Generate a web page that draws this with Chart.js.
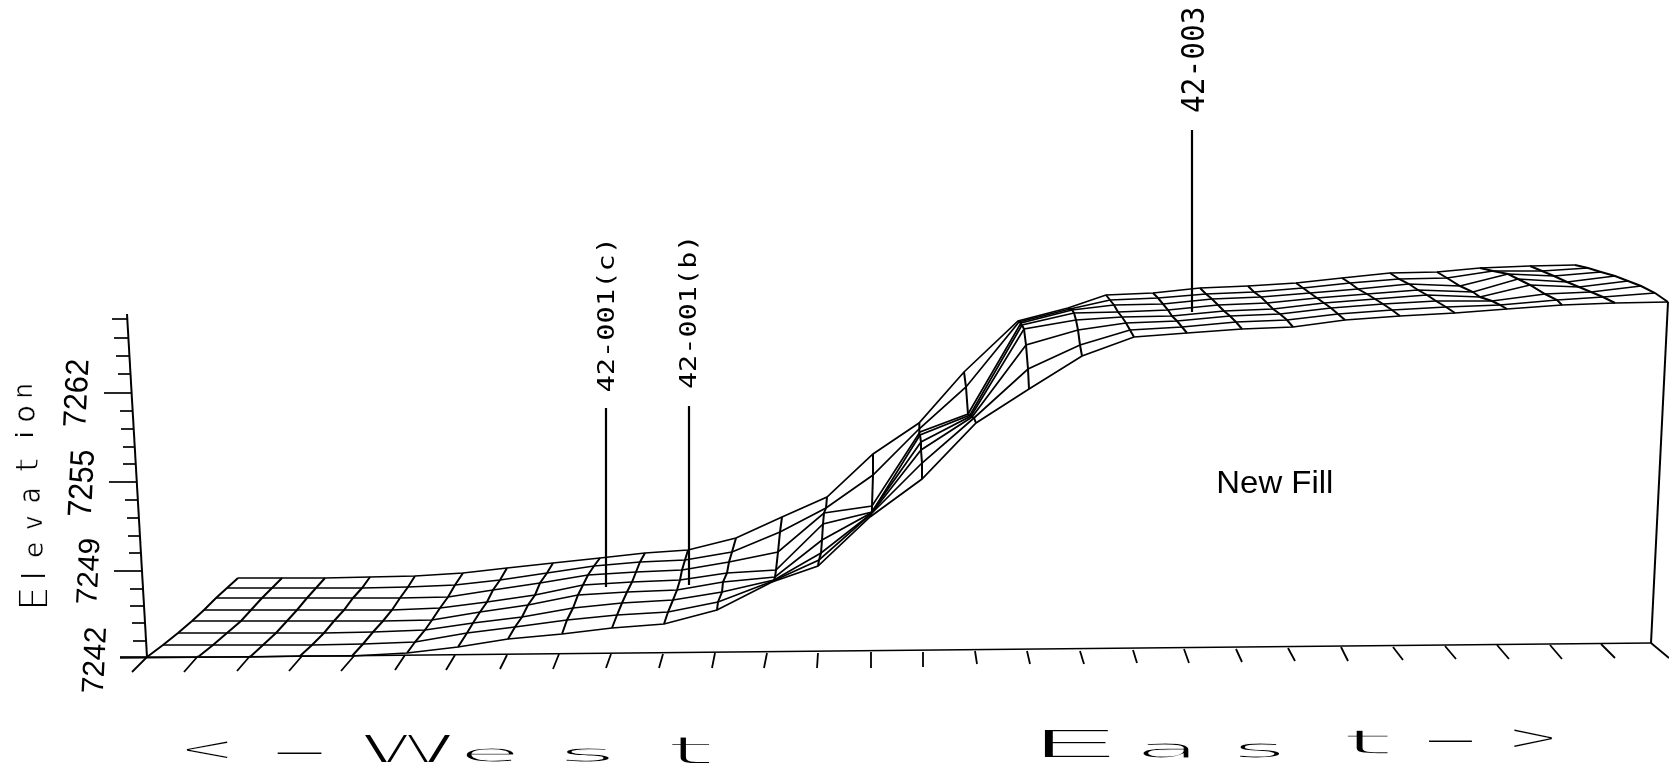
<!DOCTYPE html>
<html>
<head>
<meta charset="utf-8">
<title>Elevation surface</title>
<script src="https://cdn.jsdelivr.net/npm/chart.js@4"></script>
<style>
html, body { margin: 0; padding: 0; background: #fff; overflow: hidden; }
canvas { display: block; }
</style>
</head>
<body>
<canvas id="surfaceChart" width="1669" height="771"></canvas>
<script>
// one line per mesh column, front row first.
const meshX = [
    [147,163,178,192,204,216,227,238],
    [198,213,227,241,251,262,272,282],
    [250,263,276,287,297,307,316,325],
    [300,312,324,334,344,353,362,370],
    [352,363,373,383,392,400,408,415],
    [407,415,425,432,440,448,455,463],
    [458,467,473,480,487,493,500,507],
    [508,515,522,528,535,540,547,553],
    [562,567,573,578,583,588,594,600],
    [612,617,622,627,632,636,640,645],
    [664,668,673,677,680,682,685,688],
    [717,718,722,723,727,729,732,736],
    [772,773,774,775,776,778,780,782],
    [818,819,821,822,823,824,826,827],
    [870,870,871,871,872,872,873,873],
    [922,922,921,921,920,920,919,919],
    [976,974,972,971,970,968,966,964],
    [1029,1028,1026,1024,1022,1021,1019,1018],
    [1082,1080,1078,1076,1074,1072,1070,1068],
    [1134,1130,1126,1122,1118,1114,1110,1106],
    [1187,1182,1177,1172,1168,1163,1158,1153],
    [1242,1236,1230,1224,1218,1212,1206,1200],
    [1293,1287,1280,1273,1267,1261,1254,1248],
    [1345,1338,1331,1324,1317,1310,1303,1296],
    [1400,1392,1383,1375,1367,1358,1350,1342],
    [1455,1446,1436,1427,1418,1409,1399,1390],
    [1507,1500,1492,1480,1473,1460,1447,1437],
    [1562,1557,1545,1530,1518,1508,1493,1480],
    [1615,1603,1591,1579,1567,1554,1542,1530],
    [1668,1655,1641,1628,1615,1601,1588,1575]
];
const meshY = [
    [657,645,633,621,610,598,588,578],
    [657,645,633,621,610,598,588,578],
    [657,645,633,621,610,598,588,578],
    [656,645,633,621,610,598,588,577],
    [656,644,632,621,610,598,587,576],
    [653,642,630,620,608,597,585,573],
    [647,633,623,612,602,590,580,568],
    [639,627,617,605,595,583,573,563],
    [634,620,608,595,585,575,566,558],
    [628,615,603,592,582,572,562,553],
    [624,612,600,590,580,570,560,550],
    [610,602,592,582,573,562,552,538],
    [582,581,580,577,570,552,532,517],
    [566,560,553,540,524,513,508,497],
    [517,515,514,513,512,506,475,454],
    [479,463,450,442,435,432,429,423],
    [423,418,417,416,415,414,387,372],
    [389,369,345,329,325,323,322,321],
    [356,345,330,320,313,310,309,308],
    [337,330,323,317,312,305,300,295],
    [333,327,321,316,310,304,298,293],
    [329,322,316,311,305,299,294,288],
    [327,320,314,309,303,297,292,286],
    [320,314,308,303,298,293,288,283],
    [316,310,304,299,294,289,283,278],
    [313,307,301,295,290,284,279,273],
    [309,305,301,297,292,286,278,272],
    [305,300,294,285,279,274,271,268],
    [303,297,292,287,282,276,271,266],
    [302,293,286,281,276,272,268,265]
];

// bottom axis ticks
const baseTickTopX = [147,198,250,302,354,405,455,507,559,611,663,715,767,818,871,923,975,1027,1080,1133,1184,1236,1288,1341,1393,1445,1497,1550,1601,1651];
const baseTickTopY = [657,656,656,656,656,655,655,655,654,654,654,653,653,653,652,652,651,651,651,650,649,649,648,647,647,646,645,645,644,643];
const baseTickTipX = [132,184,237,289,341,395,446,500,553,606,659,712,764,817,871,923,977,1030,1084,1137,1189,1242,1295,1348,1403,1456,1509,1562,1615,1669];
const baseTickTipY = [672,672,671,671,671,670,670,669,669,668,668,668,668,668,668,667,664,664,664,663,663,662,661,661,660,659,659,659,658,658];

// elevation axis ticks
const elevTickY = [319,338,356,374,393,411,429,447,464,482,500,518,536,553,571,589,606,623,641,657];
const elevTickAxisX = [127,129,130,131,132,133,134,135,136,137,138,139,140,141,142,143,144,145,146,147];
const elevTickEndX = [112,114,116,118,104,120,121,123,123,109,125,127,128,129,114,130,130,132,133,120];
const elevTickLabels = ['7262', '7255', '7249', '7242'];

// borehole sticks
const wellNames = ['42-001(c)', '42-001(b)', '42-003'];
const wellX = [606, 689, 1192];
const wellTopY = [408, 406, 130];
const wellBottomY = [587, 585, 312];

const axisLabel = 'Elevation';
const westLabel = ['<', '-', 'W', 'e', 's', 't'];
const eastLabel = ['E', 'a', 's', 't', '-', '>'];
const fillLabel = 'New Fill';

function line(points, width) {
    return {
        data: points,
        showLine: true,
        borderColor: '#000',
        borderWidth: width,
        pointRadius: 0,
        tension: 0
    };
}

let datasets = [];

// rows of the mesh
for (let r = 0; r < 8; r++) {
    datasets.push(line(meshX.map((col, c) => ({x: col[r], y: meshY[c][r]})), 1.7));
}
// columns of the mesh
meshX.forEach((col, c) => {
    datasets.push(line(col.map((x, r) => ({x: x, y: meshY[c][r]})), 2));
});
// base line, elevation axis, right edge
datasets.push(line([{x: 120, y: 658}, {x: baseTickTopX[29], y: baseTickTopY[29]}], 1.6));
datasets.push(line([{x: 127, y: 314}, {x: 147, y: 657}], 2));
datasets.push(line([{x: baseTickTopX[29], y: baseTickTopY[29]}, {x: 1668, y: 302}], 2));

baseTickTopX.forEach((x, i) => {
    datasets.push(line([{x: x, y: baseTickTopY[i]}, {x: baseTickTipX[i], y: baseTickTipY[i]}], 1.8));
});
elevTickY.forEach((y, i) => {
    datasets.push(line([{x: elevTickEndX[i], y: y}, {x: elevTickAxisX[i], y: y}], 1.7));
});
wellX.forEach((x, i) => {
    datasets.push(line([{x: x, y: wellTopY[i]}, {x: x, y: wellBottomY[i]}], 2.2));
});

// squeezes a text into a box, the old plotter font is stretched all over.
// erode > 0 shaves the glyph with a white outline so wide stems stay thin
function fitText(ctx, text, font, cx, cy, w, h, rot, erode) {
    ctx.save();
    ctx.font = font;
    ctx.fillStyle = '#000';
    ctx.textAlign = 'left';
    ctx.textBaseline = 'alphabetic';
    let m = ctx.measureText(text);
    let mw = m.actualBoundingBoxLeft + m.actualBoundingBoxRight;
    let mh = m.actualBoundingBoxAscent + m.actualBoundingBoxDescent;
    ctx.translate(cx, cy);
    ctx.rotate(rot);
    ctx.scale(w / mw, h / mh);
    let tx = -mw / 2 + m.actualBoundingBoxLeft;
    let ty = mh / 2 - m.actualBoundingBoxDescent;
    ctx.fillText(text, tx, ty);
    if (erode) {
        ctx.strokeStyle = '#fff';
        ctx.lineWidth = erode;
        ctx.strokeText(text, tx, ty);
    }
    ctx.restore();
}

const upright = -Math.PI / 2;
const monoFont = '27px "DejaVu Sans Mono"';
const thinFont = '30px "DejaVu Sans"';
const sansFont = '28px "Liberation Sans"';

const textPlugin = {
    id: 'plotText',
    afterDraw(chart) {
        let ctx = chart.ctx;

        // elevation ticks
        fitText(ctx, elevTickLabels[0], sansFont, 76, 393, 67, 22, upright + 0.05);
        fitText(ctx, elevTickLabels[1], sansFont, 81, 483, 66, 23, upright + 0.05);
        fitText(ctx, elevTickLabels[2], sansFont, 88, 571, 65, 20, upright + 0.05);
        fitText(ctx, elevTickLabels[3], sansFont, 94, 660, 65, 21, upright + 0.05);

        // Elevation, letter by letter
        let gx = [33, 32, 35, 34, 31, 26, 24, 26, 24];
        let gy = [598, 576, 550, 523, 496, 465, 435, 414, 391];
        let gw = [20, 3, 14, 13, 13, 14, 3, 15, 12];
        let gh = [30, 25, 15, 15, 17, 24, 18, 17, 15];
        let ge = [1.4, 0, 0.5, 0.5, 0.5, 1, 0, 0.5, 0.5];
        for (let i = 0; i < axisLabel.length; i++) {
            fitText(ctx, axisLabel[i], thinFont, gx[i], gy[i], gw[i], gh[i], upright, ge[i]);
        }

        // well names
        fitText(ctx, wellNames[0], monoFont, 607, 317, 149, 20, upright);
        fitText(ctx, wellNames[1], monoFont, 689, 314, 148, 20, upright);
        fitText(ctx, wellNames[2], monoFont, 1192, 60, 104, 24, upright);

        fitText(ctx, fillLabel, '30px "Liberation Sans"', 1275, 481, 113, 23, 0);

        // < - West
        let wx = [207, 300, 408, 489, 588, 691];
        let wy = [750, 753, 749, 755, 755, 750];
        let ww = [44, 50, 92, 54, 53, 50];
        let wh = [20, 2, 28, 14, 14, 28];
        westLabel.forEach((c, i) => fitText(ctx, c, thinFont, wx[i], wy[i], ww[i], wh[i], 0, c == '-' ? 0 : 1.4));

        // East ->
        let ex = [1077, 1165, 1260, 1368, 1451, 1533];
        let ey = [743, 750, 750, 741, 741, 738];
        let ew = [81, 54, 49, 54, 49, 41];
        let eh = [29, 15, 15, 25, 2, 21];
        eastLabel.forEach((c, i) => fitText(ctx, c, thinFont, ex[i], ey[i], ew[i], eh[i], 0, c == '-' ? 0 : 1.4));
    }
};

const chart = new Chart(document.getElementById('surfaceChart').getContext('2d'), {
    type: 'scatter',
    data: {datasets: datasets},
    plugins: [textPlugin],
    options: {
        responsive: false,
        animation: false,
        devicePixelRatio: 1,
        layout: {padding: 0},
        plugins: {legend: {display: false}, tooltip: {enabled: false}},
        scales: {
            x: {type: 'linear', min: 0, max: 1669, display: false},
            y: {type: 'linear', min: 0, max: 771, reverse: true, display: false}
        }
    }
});
</script>
</body>
</html>
